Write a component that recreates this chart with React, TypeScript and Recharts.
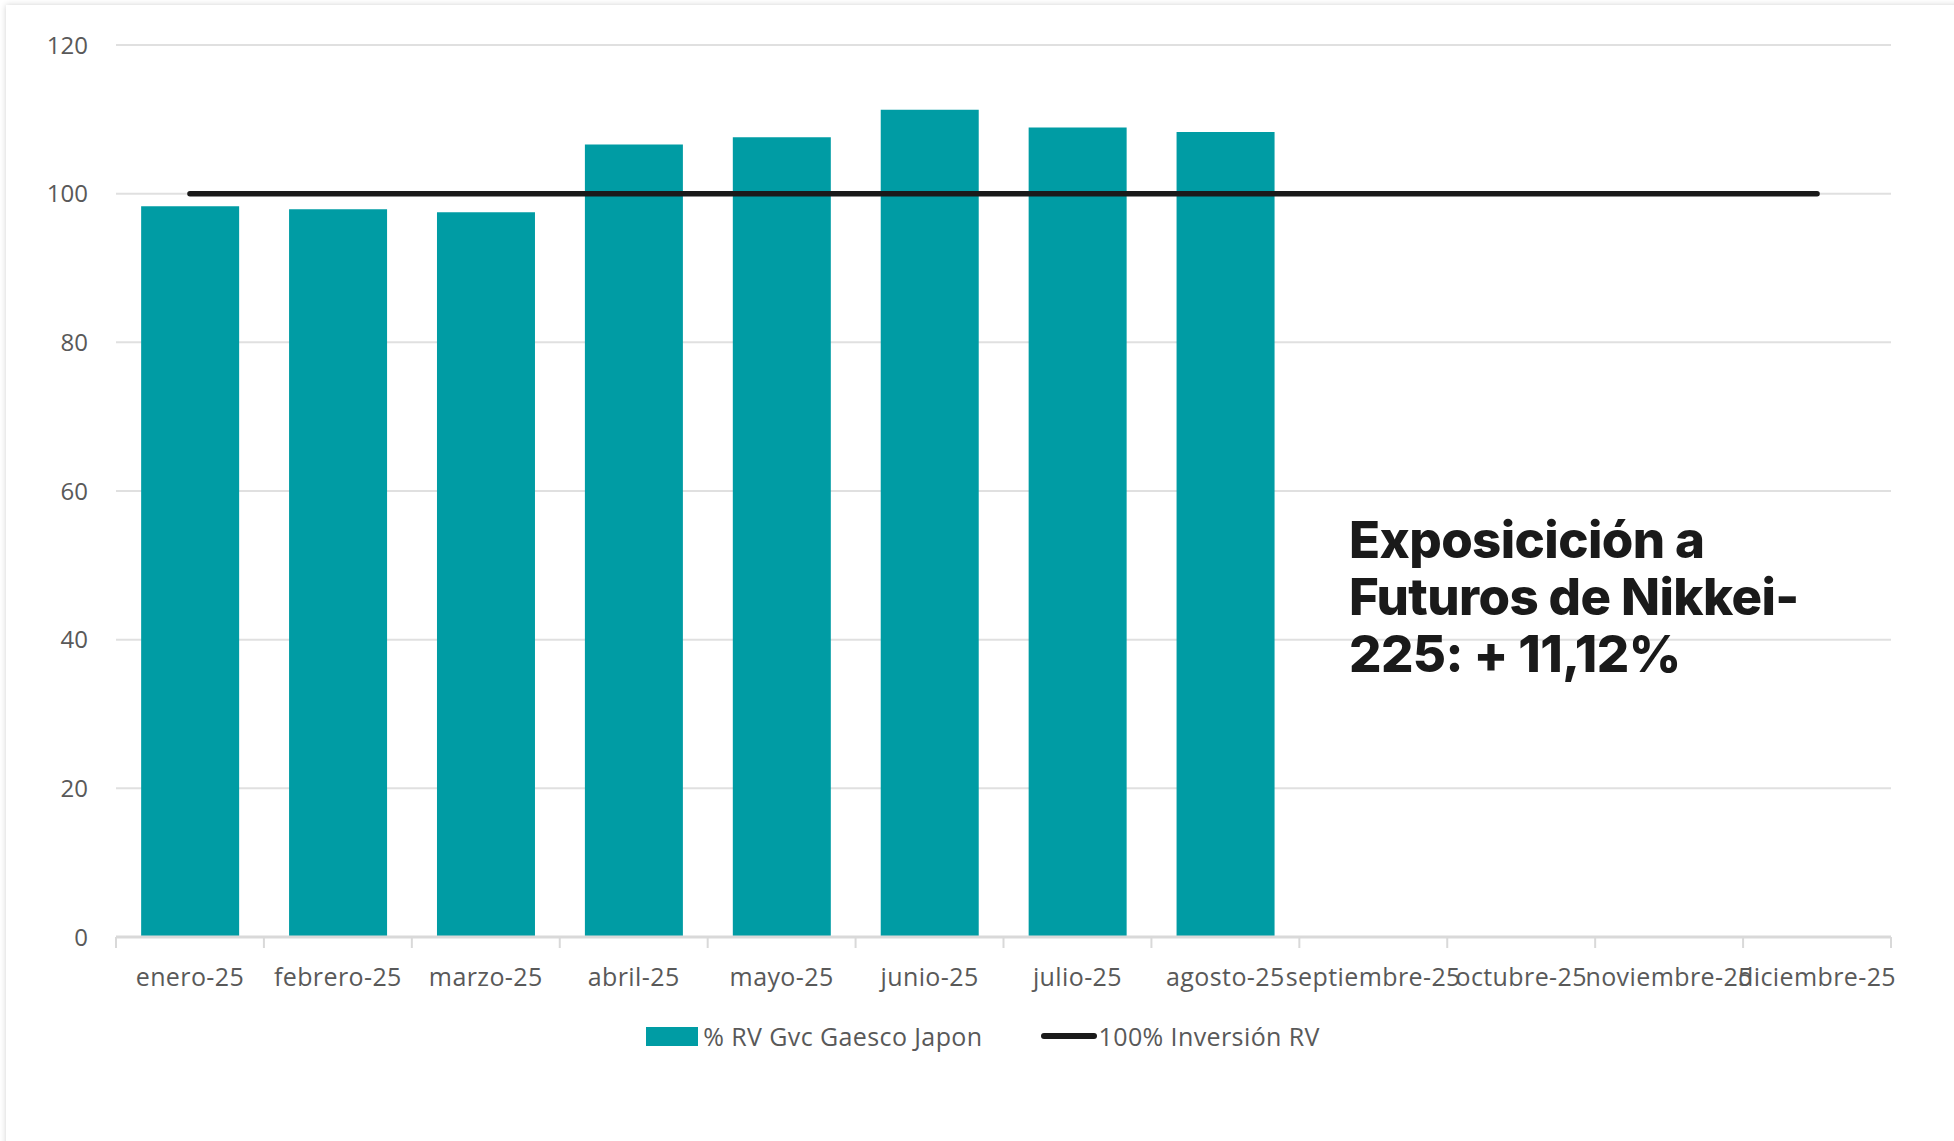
import { ComposedChart, Bar, Line, XAxis, YAxis, CartesianGrid } from 'recharts';

const months = ['enero-25', 'febrero-25', 'marzo-25', 'abril-25', 'mayo-25', 'junio-25', 'julio-25', 'agosto-25', 'septiembre-25', 'octubre-25', 'noviembre-25', 'diciembre-25'];
const rvGaesco = [98.3, 97.9, 97.5, 106.6, 107.6, 111.3, 108.9, 108.3, null, null, null, null];
const inversionRV = [100, 100, 100, 100, 100, 100, 100, 100, 100, 100, 100, 100];
const yTicks = [0, 20, 40, 60, 80, 100, 120];
const barName = '% RV Gvc Gaesco Japon';
const lineName = '100% Inversión RV';
const noteLines = ['Exposicición a', 'Futuros de Nikkei-', '225: + 11,12%'];

const data = months.map((m, i) => ({ month: m, rv: rvGaesco[i], inv: inversionRV[i] }));

const W = 1954;
const H = 1141;
const PLOT_LEFT = 116;
const PLOT_RIGHT = 1891;
const PLOT_TOP = 45;
const PLOT_BOTTOM = 937;
const BAND = (PLOT_RIGHT - PLOT_LEFT) / months.length;
const TEAL = '#009ca4';
const FONT = '"Open Sans", sans-serif';

function MonthTick(props: any) {
  const { x, y, payload, index } = props;
  const left = x - BAND / 2;
  return (
    <g>
      <line x1={left} x2={left} y1={PLOT_BOTTOM} y2={PLOT_BOTTOM + 11} stroke="#d9d9d9" strokeWidth={2} />
      {index === months.length - 1 && (
        <line x1={left + BAND} x2={left + BAND} y1={PLOT_BOTTOM} y2={PLOT_BOTTOM + 11} stroke="#d9d9d9" strokeWidth={2} />
      )}
      <text x={x} y={y} dy="0.71em" textAnchor="middle" fill="#595959" fontSize={25} letterSpacing={0.4} fontFamily={FONT}>
        {payload.value}
      </text>
    </g>
  );
}

export default function App() {
  return (
    <div style={{ position: 'fixed', left: 0, top: 0, width: W, height: H, background: '#fff', overflow: 'hidden' }}>
      <div style={{ position: 'absolute', left: 6, top: 5, width: W + 20, height: H + 20, boxShadow: '0 0 6px rgba(0,0,0,0.18)', background: '#fff' }} />
      <div style={{ position: 'absolute', left: 0, top: 0 }}>
        <ComposedChart
          width={W}
          height={H}
          data={data}
          margin={{ top: PLOT_TOP, right: W - PLOT_RIGHT, bottom: H - PLOT_BOTTOM - 30, left: 0 }}
          barCategoryGap="17%"
        >
          <CartesianGrid vertical={false} stroke="#e0e0e0" strokeWidth={2} />
          <XAxis
            dataKey="month"
            interval={0}
            height={30}
            axisLine={{ stroke: '#d9d9d9', strokeWidth: 3 }}
            tickLine={false}
            tickSize={0}
            tickMargin={31}
            tick={<MonthTick />}
          />
          <YAxis
            width={PLOT_LEFT}
            domain={[0, 120]}
            ticks={yTicks}
            axisLine={false}
            tickLine={false}
            tickSize={0}
            tickMargin={28}
            tick={{ fill: '#595959', fontSize: 24, fontFamily: FONT }}
          />
          <Bar dataKey="rv" name={barName} fill={TEAL} isAnimationActive={false} />
          <Line dataKey="inv" name={lineName} stroke="#1a1a1a" strokeWidth={5.5} strokeLinecap="round" dot={false} activeDot={false} isAnimationActive={false} />
        </ComposedChart>
      </div>
      <div style={{ position: 'absolute', left: 0, width: 1966, top: 1019, display: 'flex', justifyContent: 'center', alignItems: 'center', fontFamily: FONT, fontSize: 25, letterSpacing: 0.4, color: '#595959' }}>
        <span style={{ display: 'inline-block', width: 52, height: 19, background: TEAL, marginRight: 5 }} />
        <span>{barName}</span>
        <span style={{ display: 'inline-block', width: 56, height: 6, borderRadius: 3, background: '#1a1a1a', marginLeft: 58, marginRight: 2 }} />
        <span>{lineName}</span>
      </div>
      <div style={{ position: 'absolute', left: 1349, top: 511, fontFamily: 'Inter, sans-serif', fontWeight: 800, fontSize: 51, lineHeight: '57px', color: '#1a1a1a', letterSpacing: -0.6 }}>
        {noteLines.map((l) => (
          <div key={l}>{l}</div>
        ))}
      </div>
    </div>
  );
}
